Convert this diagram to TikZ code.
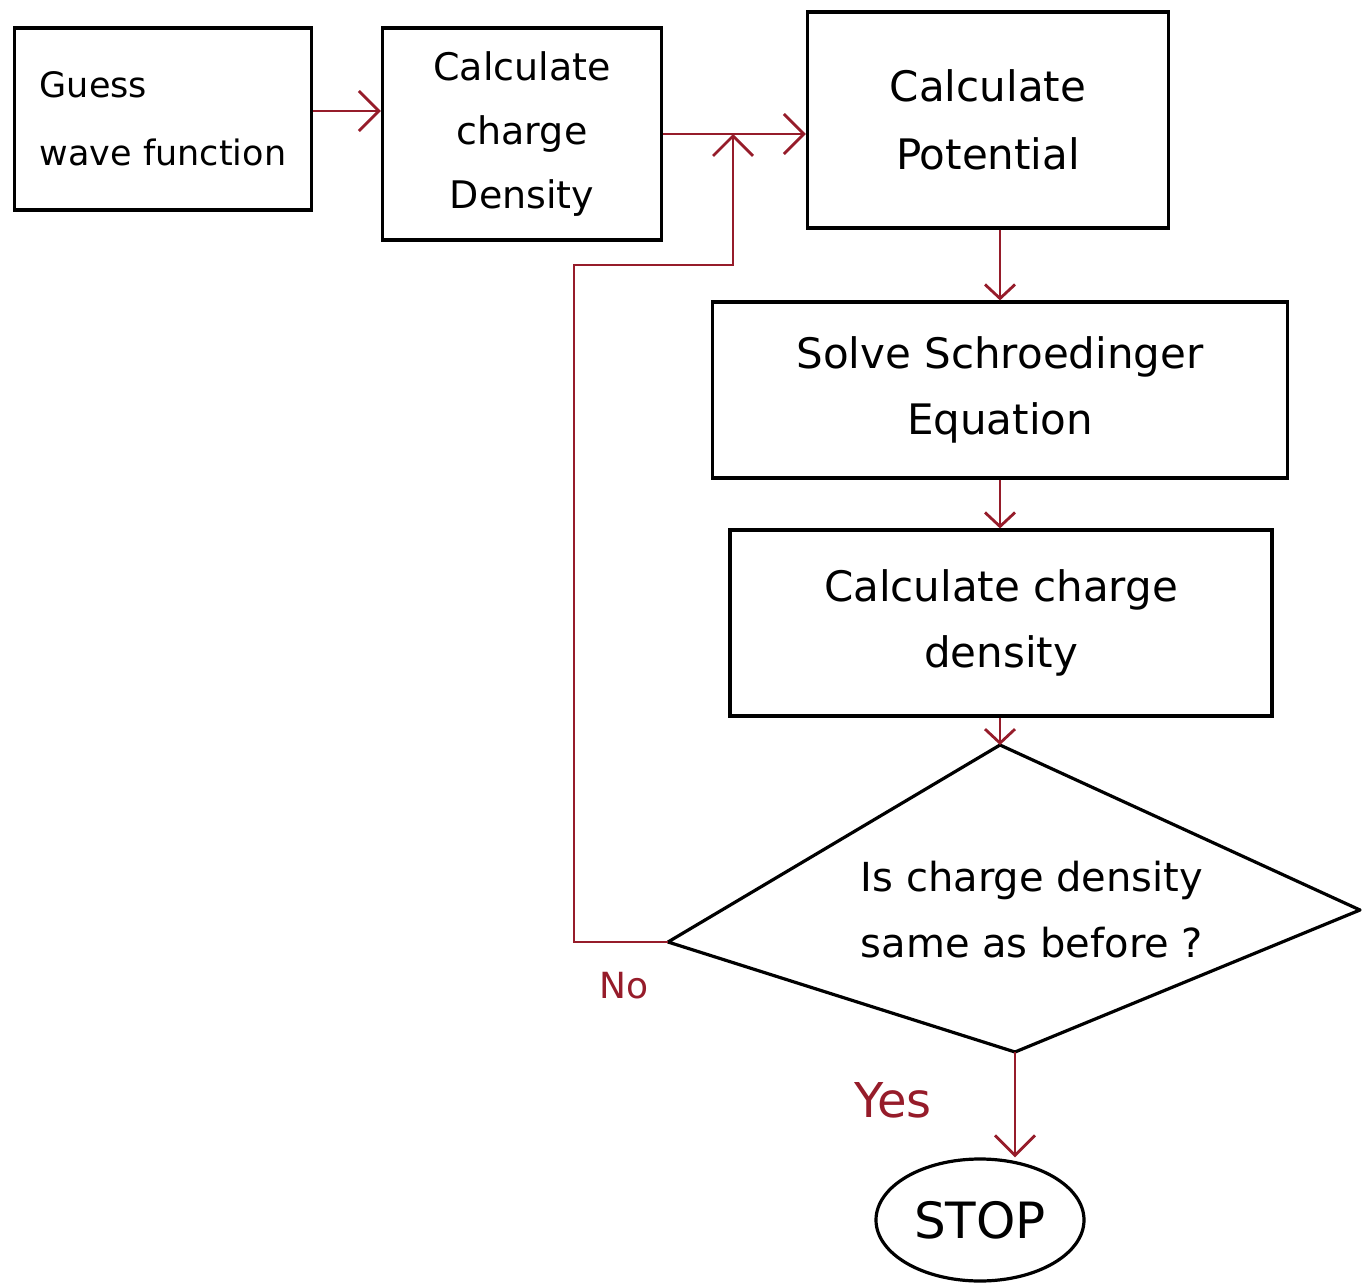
\documentclass[tikz,border=0pt]{standalone}
\usepackage{fontspec}
\setmainfont{DejaVu Sans}
\usetikzlibrary{shapes.geometric,arrows.meta}
\definecolor{inkred}{RGB}{150,28,42}
\tikzset{
  procbox/.style={draw=black, line width=3.2pt, rectangle, inner sep=0pt,
    align=center, font=\fontsize{38}{64}\selectfont},
  flow/.style={draw=inkred, line width=2.8pt,
    -{Straight Barb[length=20pt,width=40pt,line width=2.8pt]}},
  flowsmall/.style={flow, -{Straight Barb[length=14pt,width=30pt,line width=2.8pt]}},
  redlabel/.style={text=inkred, inner sep=0pt}
}
\begin{document}
\begin{tikzpicture}[x=1pt,y=-1pt]
  \useasboundingbox[fill=white] (0,0) rectangle (1369,1287);

  % process boxes
  \node[procbox, minimum width=297pt, minimum height=182pt, align=left,
        font=\fontsize{35}{68}\selectfont] (guess) at (163,119)
        {Guess\\wave function};
  \node[procbox, minimum width=279pt, minimum height=212pt] (rho0) at (522,134)
        {Calculate\\charge\\Density};
  \node[procbox, minimum width=361pt, minimum height=216pt,
        font=\fontsize{42}{68}\selectfont] (pot) at (988,120)
        {Calculate\\Potential};
  \node[procbox, minimum width=575pt, minimum height=176pt,
        font=\fontsize{42}{66}\selectfont] (solve) at (1000,390)
        {Solve Schroedinger\\Equation};
  \node[procbox, minimum width=542pt, minimum height=186pt,
        font=\fontsize{42}{66}\selectfont] (rho) at (1001,623)
        {Calculate charge\\density};

  % decision: a slightly tilted diamond
  \coordinate (dtop) at (1000,745);
  \coordinate (dright) at (1360,910);
  \coordinate (dbottom) at (1015,1052);
  \coordinate (dleft) at (668,942);
  \draw[black, line width=3.2pt, line join=round]
    (dtop) -- (dright) -- (dbottom) -- (dleft) -- cycle;
  \node[align=center, font=\fontsize{40}{66}\selectfont] (test) at (1032,910)
        {Is charge density\\same as before ?};

  % terminal
  \node[draw=black, line width=3.2pt, ellipse, inner sep=0pt,
        minimum width=208pt, minimum height=122pt,
        font=\fontsize{50}{56}\selectfont] (stop) at (980,1220) {STOP};

  % main flow
  \coordinate (out1) at ([yshift=8pt]guess.east);
  \draw[flow] (out1) -- (rho0.west |- out1);
  \draw[flow] (rho0.east) -- (pot.west |- rho0.east);
  \coordinate (join) at (733,134);
  \draw[flowsmall] (pot.south -| solve.north) -- (solve.north);
  \draw[flowsmall] (solve.south) -- (rho.north -| solve.south);
  \draw[flowsmall] (rho.south -| dtop) -- (dtop);
  \draw[flow] (dbottom) -- (stop.north -| dbottom);

  % loop back when the density has changed
  \coordinate (loopcorner) at (574,265);
  \draw[flow] (dleft) -| (loopcorner) -| (join);

  % branch labels
  \node[redlabel, font=\fontsize{36}{40}\selectfont] (nolbl) at (624,986) {No};
  \node[redlabel, font=\fontsize{48}{52}\selectfont] (yeslbl) at (893,1100) {Yes};
\end{tikzpicture}
\end{document}
